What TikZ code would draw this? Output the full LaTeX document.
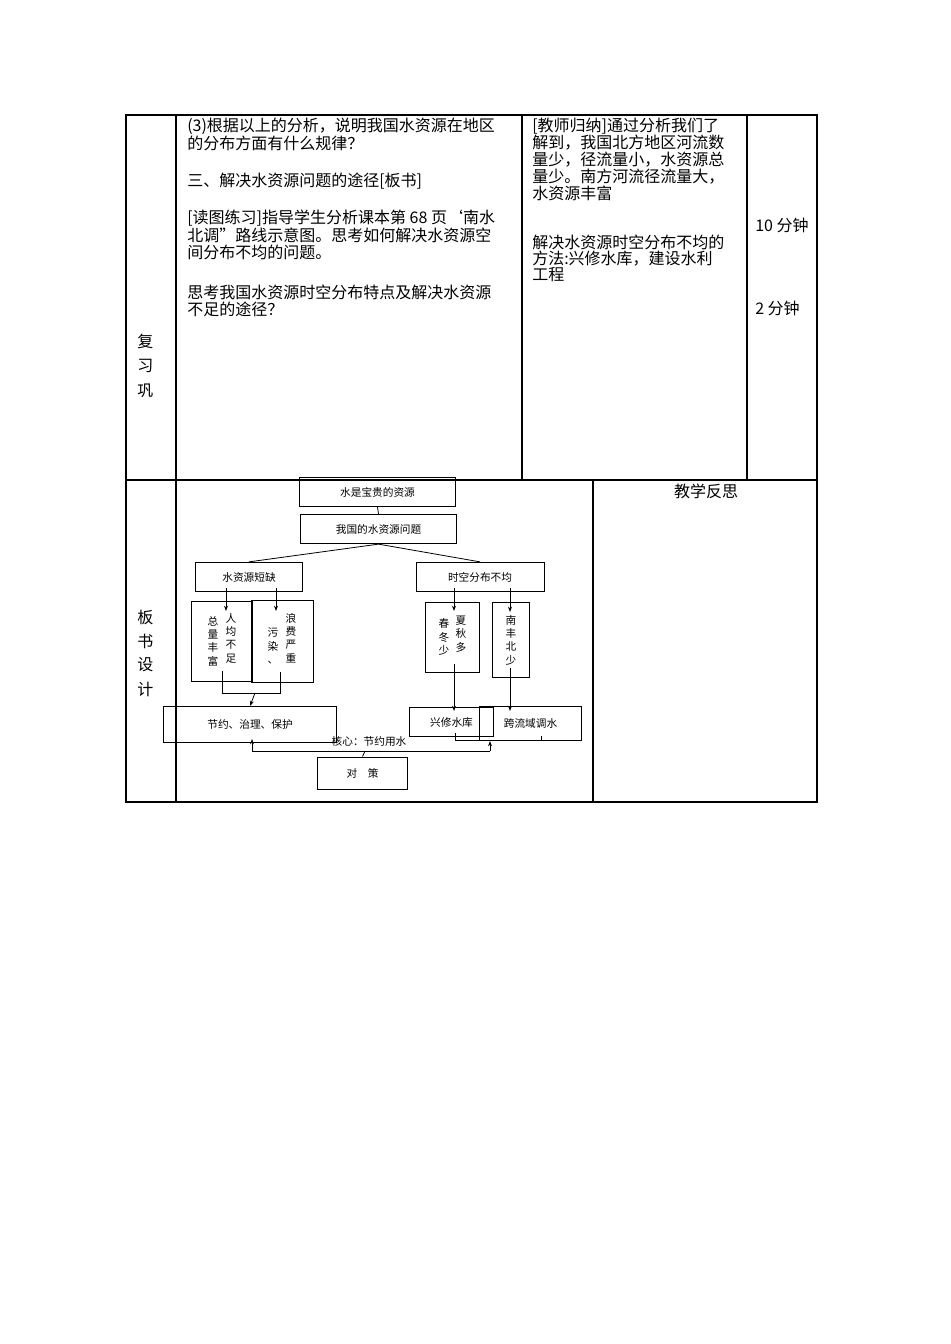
\documentclass[tikz,border=0pt]{standalone}
\usepackage{fontspec}
\setmainfont{Noto Sans CJK SC}
\usetikzlibrary{arrows.meta}
\begin{document}
\begin{tikzpicture}[x=0.75pt,y=-0.75pt,
  tl/.style={anchor=west,inner sep=0,font=\fontsize{12}{12}\selectfont},
  fb/.style={draw,line width=0.7pt,inner sep=0},
  ft/.style={inner sep=0,font=\fontsize{8}{8}\selectfont},
  vt/.style={inner sep=0,font=\fontsize{8}{10}\selectfont,align=center},
  ar/.style={-{Stealth[length=4pt,width=3pt]},line width=0.6pt},
  ln/.style={line width=0.6pt}]
\useasboundingbox (0,0) rectangle (950,1344);
% table
\draw[line width=0.8pt] (126,115) rectangle (817,802);
\draw[line width=0.8pt] (126,480) -- (817,480);
\draw[line width=0.8pt] (176,115) -- (176,802);
\draw[line width=0.8pt] (522,115) -- (522,480);
\draw[line width=0.8pt] (747,115) -- (747,480);
\draw[line width=0.8pt] (593,480) -- (593,802);
% left labels
\node[tl] (l1) at (137,341) {复};
\node[tl] (l2) at (137,366) {习};
\node[tl] (l3) at (137,391) {巩};
\node[tl] (l3b) at (137,393) {};
\node[tl] (l4) at (137,617) {板};
\node[tl] (l5) at (137,641) {书};
\node[tl] (l6) at (137,665) {设};
\node[tl] (l7) at (137,689) {计};
% middle text
\node[tl] (a1) at (187,126) {(3)根据以上的分析，说明我国水资源在地区};
\node[tl] (a2) at (187,143) {的分布方面有什么规律？};
\node[tl] (a3) at (187,181) {三、解决水资源问题的途径[板书]};
\node[tl] (a4) at (187,218) {[读图练习]指导学生分析课本第 68 页‘南水};
\node[tl] (a5) at (187,235) {北调”路线示意图。思考如何解决水资源空};
\node[tl] (a6) at (187,252) {间分布不均的问题。};
\node[tl] (a7) at (187,292) {思考我国水资源时空分布特点及解决水资源};
\node[tl] (a8) at (187,309) {不足的途径？};
% right text
\node[tl] (b1) at (532,126) {[教师归纳]通过分析我们了};
\node[tl] (b2) at (532,143) {解到，我国北方地区河流数};
\node[tl] (b3) at (532,160) {量少，径流量小，水资源总};
\node[tl] (b4) at (532,177) {量少。南方河流径流量大，};
\node[tl] (b5) at (532,193) {水资源丰富};
\node[tl] (b6) at (532,242) {解决水资源时空分布不均的};
\node[tl] (b7) at (532,259) {方法:兴修水库，建设水利};
\node[tl] (b8) at (532,275) {工程};
\node[tl] (c1) at (755,225) {10 分钟};
\node[tl] (c2) at (755,308) {2 分钟};
\node[tl,anchor=center] (d1) at (706,491) {教学反思};
% flowchart
\node[fb,minimum width=117,minimum height=22] (n1) at (377.5,492) {};
\node[ft] at (n1) {水是宝贵的资源};
\node[fb,minimum width=117,minimum height=22] (n2) at (378.5,529) {};
\node[ft] at (n2) {我国的水资源问题};
\node[fb,minimum width=80,minimum height=22] (n3) at (249,577) {};
\node[ft] at (n3) {水资源短缺};
\node[fb,minimum width=96,minimum height=22] (n4) at (480,577) {};
\node[ft] at (n4) {时空分布不均};
\node[fb,minimum width=46,minimum height=60] (n5) at (222,641) {};
\node[vt] at (213,641) {总\\量\\丰\\富};
\node[vt] at (231,638) {人\\均\\不\\足};
\node[fb,minimum width=47,minimum height=61] (n6) at (282.5,641.5) {};
\node[vt] at (273,646) {污\\染\\、};
\node[vt] at (291,638) {浪\\费\\严\\重};
\node[fb,minimum width=41,minimum height=53] (n7) at (452.5,637.5) {};
\node[vt] at (444,637) {春\\冬\\少};
\node[vt] at (461,634) {夏\\秋\\多};
\node[fb,minimum width=28,minimum height=56] (n8) at (511,640) {};
\node[vt] at (n8) {南\\丰\\北\\少};
\node[fb,minimum width=130,minimum height=27] (n9) at (250,724.5) {};
\node[ft] at (n9) {节约、治理、保护};
\node[fb,minimum width=63,minimum height=22] (n10) at (451.5,722) {};
\node[ft] at (n10) {兴修水库};
\node[fb,minimum width=77,minimum height=25] (n11) at (530.5,723.5) {};
\node[ft] at (n11) {跨流域调水};
\node[fb,minimum width=67,minimum height=24] (n12) at (362.5,773) {};
\node[ft] at (n12) {对\quad 策};
\node[ft] (k) at (369,741) {核心：节约用水};
\draw[ln] (n1.south) -- (n2.north);
\draw[ln] (n2.south) -- (n3.north);
\draw[ln] (n2.south) -- (n4.north);
\draw[ar] (226,588) -- (226,611);
\draw[ar] (276,588) -- (276,611);
\draw[ar] (454,588) -- (454,611);
\draw[ar] (510,588) -- (510,612);
\draw[ln] (222,671) -- (222,693) -- (280,693) -- (280,672);
\draw[ar] (255,693) -- (n9.north);
\draw[ar] (454,664) -- (454,711);
\draw[ar] (510,668) -- (510,711);
\draw[ln] (455,733) -- (455,740) -- (541,740) -- (541,736);
\draw[ln] (n12.north) -- (365,751);
\draw[ln] (252,751) -- (490,751);
\draw[ar] (252,751) -- (252,739);
\draw[ar] (490,751) -- (490,741);
\end{tikzpicture}
\end{document}
